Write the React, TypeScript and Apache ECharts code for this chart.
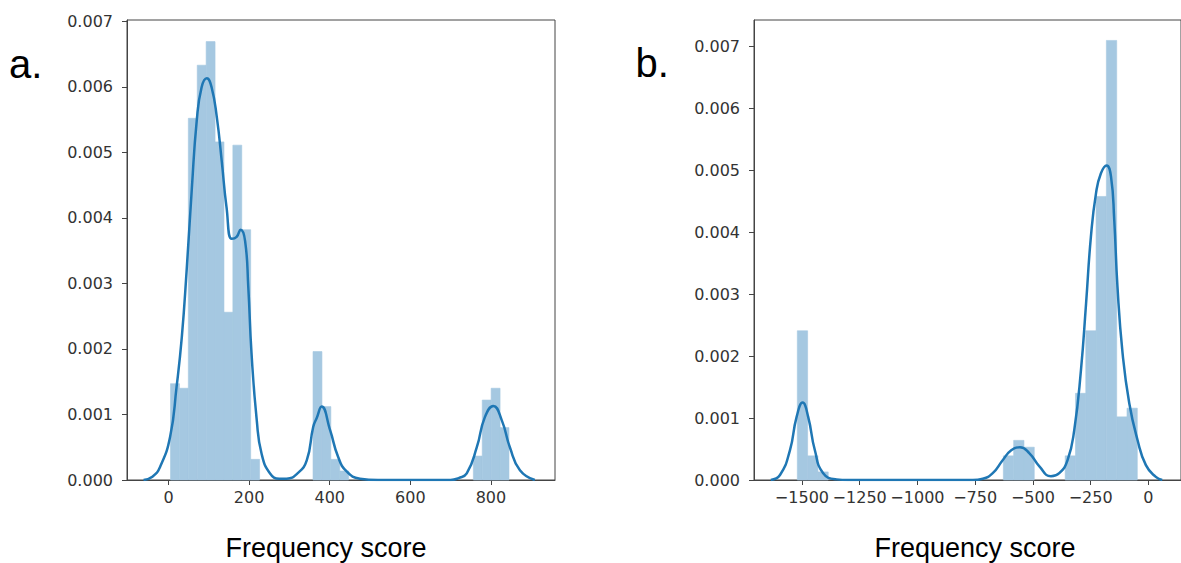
import React, { useEffect, useRef } from "react";
import * as echarts from "echarts";

// ---- Data ----
const leftBinStart = 5;
const leftBinWidth = 22.1;
const leftDensity = [
  0.00147, 0.0014, 0.00552, 0.00633, 0.00669, 0.00516, 0.00256, 0.00511, 0.00382, 0.000315,
  0, 0, 0, 0, 0, 0,
  0.00196, 0.00112, 0.000315, 0.000137,
  0, 0, 0, 0, 0, 0, 0, 0, 0, 0, 0, 0, 0, 0,
  0.000365, 0.00122, 0.0014, 0.0008,
];
const leftKdeX = [
  -62, -40, -21, 4, 20, 33, 45, 58, 70, 82, 95, 107, 120, 132, 144, 157, 169, 179, 190, 198,
  206, 219, 231, 252, 275, 293, 320, 343, 359, 368, 380, 401, 421, 442, 475, 520, 700, 720,
  740, 765, 785, 806, 827, 847, 872, 909,
];
const leftKdeY = [
  0, 0.00005, 0.0002, 0.00066, 0.00142, 0.00218, 0.0032, 0.00446, 0.00548, 0.00599, 0.00613,
  0.00599, 0.00553, 0.00487, 0.00416, 0.00368, 0.00371, 0.00382, 0.00365, 0.00294, 0.00193,
  0.00091, 0.0004, 0.0001, 0.00002, 0.00002, 0.0001, 0.0003, 0.00081, 0.00095, 0.00112,
  0.00076, 0.00035, 0.00013, 0.00002, 0, 0, 0.00003, 0.0001, 0.0005, 0.00096, 0.00113,
  0.00091, 0.0005, 0.00015, 0,
];
const leftXTicks = [0, 200, 400, 600, 800];
const leftYTicks = [0, 0.001, 0.002, 0.003, 0.004, 0.005, 0.006, 0.007];

const rightBinStart = -1520;
const rightBinWidth = 44.6;
const rightDensity = [
  0.00241, 0.00039, 0.00013,
  0, 0, 0, 0, 0, 0, 0, 0, 0, 0, 0, 0, 0, 0, 0, 0, 0,
  0.00039, 0.00064, 0.00053,
  0, 0, 0,
  0.00039, 0.0014, 0.00241, 0.00458, 0.0071, 0.00102, 0.00116,
];
const rightKdeX = [
  -1635, -1595, -1552, -1523, -1497, -1473, -1444, -1408, -1350, -1300, -760, -717, -674,
  -631, -594, -556, -515, -472, -422, -386, -350, -321, -292, -270, -249, -227, -206, -181,
  -162, -148, -134, -112, -83, -47.5, -11, 32, 60,
];
const rightKdeY = [
  0, 0.00008, 0.00048, 0.00102, 0.00125, 0.00102, 0.00048, 0.00011, 0.00001, 0, 0, 0.00002,
  0.00011, 0.00032, 0.00048, 0.00053, 0.00043, 0.00022, 0.00006, 0.00011, 0.00032, 0.00081,
  0.00178, 0.00285, 0.00393, 0.00463, 0.00495, 0.00508, 0.0049, 0.0042, 0.00312, 0.00205,
  0.00124, 0.00065, 0.00024, 0.00005, 0,
];
const rightXTicks = [-1500, -1250, -1000, -750, -500, -250, 0];
const rightYTicks = [0, 0.001, 0.002, 0.003, 0.004, 0.005, 0.006, 0.007];

const panelLetters = ["a.", "b."];
const xAxisTitle = "Frequency score";

// ---- Styles ----
const BAR_COLOR = "#a5c8e1";
const LINE_COLOR = "#1f77b4";
const AXIS_COLOR = "#444444";
const LABEL_COLOR = "#333333";
const TICK_FONT = "DejaVu Sans";
const TEXT_FONT = "Liberation Sans";

function bins(start: number, width: number, dens: number[]) {
  const out: number[][] = [];
  dens.forEach((d, i) => {
    if (d > 0) out.push([start + i * width, start + (i + 1) * width, d]);
  });
  return out;
}

function kde(xs: number[], ys: number[]) {
  return xs.map((x, i) => [x, ys[i]]);
}

const minus = (v: number) => String(v).replace("-", "\u2212");

function xAxis(gridIndex: number, min: number, max: number, ticks: number[]) {
  return {
    type: "value",
    gridIndex,
    min,
    max,
    axisLine: { show: true, onZero: false, lineStyle: { color: AXIS_COLOR, width: 1 } },
    axisTick: { show: true, length: 5, customValues: ticks, lineStyle: { color: AXIS_COLOR, width: 1 } },
    axisLabel: {
      customValues: ticks,
      margin: 9,
      fontSize: 16,
      fontFamily: TICK_FONT,
      color: LABEL_COLOR,
      formatter: (v: number) => minus(v),
    },
    splitLine: { show: false },
  };
}

function yAxis(gridIndex: number, max: number, ticks: number[]) {
  return {
    type: "value",
    gridIndex,
    min: 0,
    max,
    axisLine: { show: true, onZero: false, lineStyle: { color: AXIS_COLOR, width: 1 } },
    axisTick: { show: true, length: 5, customValues: ticks, lineStyle: { color: AXIS_COLOR, width: 1 } },
    axisLabel: {
      customValues: ticks,
      margin: 14,
      fontSize: 16,
      fontFamily: TICK_FONT,
      color: LABEL_COLOR,
      formatter: (v: number) => v.toFixed(3),
    },
    splitLine: { show: false },
  };
}

function histSeries(idx: number, data: number[][]) {
  return {
    type: "custom",
    xAxisIndex: idx,
    yAxisIndex: idx,
    z: 2,
    encode: { x: [0, 1], y: 2 },
    data,
    renderItem: (params: any, api: any) => {
      const p0 = api.coord([api.value(0), api.value(2)]);
      const p1 = api.coord([api.value(1), 0]);
      return {
        type: "rect",
        shape: { x: p0[0], y: p0[1], width: p1[0] - p0[0], height: p1[1] - p0[1] },
        style: { fill: BAR_COLOR, stroke: BAR_COLOR, lineWidth: 0.6 },
      };
    },
  };
}

function lineSeries(idx: number, data: number[][]) {
  return {
    type: "line",
    xAxisIndex: idx,
    yAxisIndex: idx,
    z: 3,
    data,
    showSymbol: false,
    symbol: "none",
    smooth: 0.5,
    lineStyle: { color: LINE_COLOR, width: 2.5 },
  };
}

export default function App() {
  const ref = useRef<HTMLDivElement>(null);
  useEffect(() => {
    if (!ref.current) return;
    const chart = echarts.init(ref.current, null, { renderer: "svg" });
    const gridBase = { top: 20, height: 460, width: 428, show: true, borderColor: AXIS_COLOR, borderWidth: 1, backgroundColor: "transparent", containLabel: false };
    chart.setOption({
      animation: false,
      backgroundColor: "#ffffff",
      grid: [
        { ...gridBase, left: 127 },
        { ...gridBase, left: 754 },
      ],
      xAxis: [xAxis(0, -103, 959, leftXTicks), xAxis(1, -1707.5, 141, rightXTicks)],
      yAxis: [yAxis(0, 0.00702, leftYTicks), yAxis(1, 0.00743, rightYTicks)],
      series: [
        histSeries(0, bins(leftBinStart, leftBinWidth, leftDensity)),
        lineSeries(0, kde(leftKdeX, leftKdeY)),
        histSeries(1, bins(rightBinStart, rightBinWidth, rightDensity)),
        lineSeries(1, kde(rightKdeX, rightKdeY)),
      ],
      graphic: [
        { type: "text", x: 9, y: 64, style: { text: panelLetters[0], fontSize: 40, fontFamily: TEXT_FONT, fill: "#000", verticalAlign: "middle", align: "left" } },
        { type: "text", x: 635.5, y: 62.8, style: { text: panelLetters[1], fontSize: 40, fontFamily: TEXT_FONT, fill: "#000", verticalAlign: "middle", align: "left" } },
        { type: "text", x: 326, y: 547.7, style: { text: xAxisTitle, fontSize: 27, fontFamily: TEXT_FONT, fill: "#000", verticalAlign: "middle", align: "center" } },
        { type: "text", x: 975, y: 547.7, style: { text: xAxisTitle, fontSize: 27, fontFamily: TEXT_FONT, fill: "#000", verticalAlign: "middle", align: "center" } },
      ],
    });
    return () => chart.dispose();
  }, []);
  return (
    <div
      ref={ref}
      style={{ position: "absolute", left: 0, top: 0, width: 1181, height: 563, background: "#fff" }}
    />
  );
}
